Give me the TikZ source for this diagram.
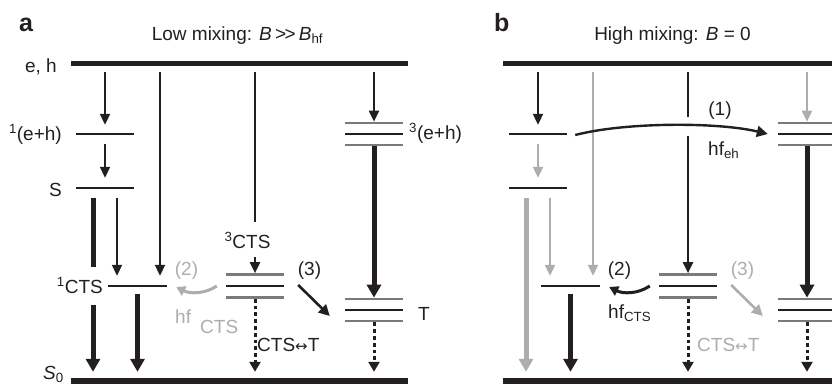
\documentclass[tikz,border=0pt]{standalone}
\usepackage{fontspec}
\setmainfont{Liberation Sans}
\newfontfamily\djv{DejaVu Sans}
\usetikzlibrary{arrows.meta,calc}
\definecolor{ink}{HTML}{231F20}
\definecolor{midgray}{HTML}{7A7A7A}
\definecolor{ltgray}{HTML}{ADADAD}
\newcommand{\lblfont}{\fontsize{19pt}{22pt}\selectfont}
\newcommand{\dblarrow}{{\djv\fontsize{15pt}{15pt}\selectfont ↔}}
\tikzset{
  lev/.style={fill=ink, inner sep=0pt, minimum height=2.6pt, minimum width=58pt},
  glev/.style={lev, fill=midgray, minimum height=2.3pt},
  bar/.style={fill=ink, inner sep=0pt, minimum height=5pt, minimum width=337pt},
  lab/.style={inner sep=0pt, text=ink, font=\lblfont},
  glab/.style={lab, text=ltgray},
  pan/.style={inner sep=0pt, text=ink, font=\fontsize{25pt}{28pt}\selectfont\bfseries},
  thinline/.style={draw=ink, line width=2pt},
  thinarr/.style={draw=ink, line width=2pt, -{Triangle[width=10pt,length=11pt]}},
  gthinarr/.style={thinarr, draw=ltgray, fill=ltgray},
  thickbar/.style={draw=ink, line width=5pt},
  thickarr/.style={draw=ink, line width=5pt, -{Triangle[width=14pt,length=13pt]}},
  gthickarr/.style={thickarr, draw=ltgray},
  dotarr/.style={draw=ink, line width=3pt, dash pattern=on 3.8pt off 3pt, -{Triangle[width=11pt,length=10pt]}},
  medarr/.style={draw=ink, line width=2.6pt, -{Triangle[width=11pt,length=11pt]}},
  gmedarr/.style={medarr, draw=ltgray},
  curvarr/.style={draw=ink, line width=3pt, -{Triangle[width=10pt,length=9pt]}},
  gcurvarr/.style={curvarr, draw=ltgray},
}
\begin{document}
\begin{tikzpicture}[x=1pt, y=-1pt]
\useasboundingbox (0,0) rectangle (832,386);

% ================= Panel a =================
\node[pan, anchor=base west] (pa) at (19,31) {a};
\node[lab, anchor=base] (ta) at (237.5,40) {Low mixing: \textit{B}\,\textgreater\kern-1.5pt\textgreater\,\textit{B}\textsubscript{hf}};

\node[bar] (aTop) at (239.5,63) {};
\node[bar, minimum height=6pt] (aBot) at (239.5,381) {};
\node[lev] (a1eh) at (105,134) {};
\node[lev] (aS) at (105,188) {};
\node[lev, minimum width=59pt] (a1CTS) at (137.5,286) {};
\node[lev] (a3CTS) at (255,286) {};
\node[glev] (a3CTSu) at (255,274.5) {};
\node[glev] (a3CTSd) at (255,297.5) {};
\node[lev] (a3eh) at (374,134) {};
\node[glev] (a3ehu) at (374,123) {};
\node[glev] (a3ehd) at (374,145) {};
\node[lev] (aT) at (374,310) {};
\node[glev] (aTu) at (374,299) {};
\node[glev] (aTd) at (374,321) {};

\node[lab, anchor=base east] (aeh) at (57,72) {e, h};
\node[lab, anchor=base east] (al1eh) at (62,140) {\textsuperscript{1}(e+h)};
\node[lab, anchor=base east] (alS) at (62,196) {S};
\node[lab, anchor=base east] (al1CTS) at (103,293) {\textsuperscript{1}CTS};
\node[lab, anchor=base] (al3CTS) at (247.5,248) {\textsuperscript{3}CTS};
\node[glab, anchor=base] (al2) at (186.5,275) {(2)};
\node[glab, anchor=base west] (alhf) at (175,323) {hf};
\node[glab, anchor=base west] (alhfc) at (200,333) {CTS};
\node[lab, anchor=base] (al3) at (309.5,275) {(3)};
\node[lab, anchor=base west] (alct) at (257,351) {CTS\dblarrow T};
\node[lab, anchor=base west] (al3eh) at (409,139) {\textsuperscript{3}(e+h)};
\node[lab, anchor=base west] (alT) at (418,320) {T};
\node[lab, anchor=base east] (alS0) at (64,379) {\textit{S}\textsubscript{0}};

\draw[thinarr, shorten <=6.5pt, shorten >=7.7pt] (aTop.south -| a1eh) -- (a1eh.north);
\draw[thinarr, shorten <=8pt, shorten >=8.7pt] (a1eh.south) -- (aS.north);
\draw[thinarr, shorten <=6.5pt, shorten >=8.7pt] ($(aTop.south -| a1CTS)+(22.5,0)$) -- ($(a1CTS.north)+(22.5,0)$);
\draw[thinarr, shorten <=8pt, shorten >=8.7pt] ($(aS.south)+(12,0)$) -- ($(a1CTS.north -| aS)+(12,0)$);
\draw[thickbar] ($(aS.south)+(-12,8)$) -- ($(a1CTS.north -| aS)+(-12,-17.7)$);
\draw[thickarr, shorten >=6pt] ($(a1CTS.south -| aS)+(-12,17.7)$) -- ($(aBot.north -| aS)+(-12,0)$);
\draw[thickarr, shorten <=6.7pt, shorten >=6pt] (a1CTS.south) -- (aBot.north -| a1CTS);
\draw[thinline, shorten <=6.5pt] (aTop.south -| a3CTS) -- ($(a3CTSu.north)+(0,-51.4)$);
\draw[thinarr] ($(a3CTSu.north)+(0,-16.4)$) -- (a3CTSu.north);
\draw[dotarr, shorten >=6pt] (a3CTSd.south) -- (aBot.north -| a3CTSd);
\draw[medarr] ($(a3CTS.east)+(14,-1)$) -- ($(aT.west)+(-15,6)$);
\draw[gcurvarr] ($(a3CTS.west)+(-9,0)$) .. controls +(-12,8) and +(14,7) .. ($(a1CTS.east)+(9,1)$);
\draw[thinarr, shorten <=6.5pt] (aTop.south -| a3eh) -- (a3ehu.north);
\draw[thickarr] (a3ehd.south) -- (aTu.north);
\draw[dotarr, shorten >=6pt] (aTd.south) -- (aBot.north -| aTd);

% ================= Panel b =================
\begin{scope}[xshift=433pt]
\node[pan, anchor=base west] (pb) at (61,31) {b};
\node[lab, anchor=base] (tb) at (239.5,40) {High mixing: \textit{B} = 0};

\node[bar] (bTop) at (238.5,63) {};
\node[bar, minimum height=6pt] (bBot) at (238.5,381) {};
\node[lev] (b1eh) at (105,134) {};
\node[lev] (bS) at (105,188) {};
\node[lev, minimum width=59pt] (b1CTS) at (137.5,286) {};
\node[lev] (b3CTS) at (255,286) {};
\node[glev] (b3CTSu) at (255,274.5) {};
\node[glev] (b3CTSd) at (255,297.5) {};
\node[lev] (b3eh) at (374,134) {};
\node[glev] (b3ehu) at (374,123) {};
\node[glev] (b3ehd) at (374,145) {};
\node[lev] (bT) at (374,310) {};
\node[glev] (bTu) at (374,299) {};
\node[glev] (bTd) at (374,321) {};

\node[lab, anchor=base] (bl1) at (287,115) {(1)};
\node[lab, anchor=base west] (blhf) at (275,155) {hf\textsubscript{eh}};
\node[lab, anchor=base] (bl2) at (186.5,275) {(2)};
\node[lab, anchor=base west] (blhfc) at (175,318) {hf\textsubscript{CTS}};
\node[glab, anchor=base] (bl3) at (309.5,275) {(3)};
\node[glab, anchor=base west] (blct) at (264,351) {CTS\dblarrow T};

\draw[thinarr, shorten <=6.5pt, shorten >=7.7pt] (bTop.south -| b1eh) -- (b1eh.north);
\draw[gthinarr, shorten <=8pt, shorten >=8.7pt] (b1eh.south) -- (bS.north);
\draw[gthinarr, shorten <=6.5pt, shorten >=8.7pt] ($(bTop.south -| b1CTS)+(22.5,0)$) -- ($(b1CTS.north)+(22.5,0)$);
\draw[gthinarr, shorten <=8pt, shorten >=8.7pt] ($(bS.south)+(12,0)$) -- ($(b1CTS.north -| bS)+(12,0)$);
\draw[gthickarr, shorten <=8pt, shorten >=6pt] ($(bS.south)+(-12,0)$) -- ($(bBot.north -| bS)+(-12,0)$);
\draw[thickarr, shorten <=6.7pt, shorten >=6pt] (b1CTS.south) -- (bBot.north -| b1CTS);
\draw[thinline, shorten <=6.5pt] (bTop.south -| b3CTS) -- ($(b3eh.north -| b3CTS)+(0,-15.7)$);
\draw[thinarr] (b3eh.south -| b3CTS) -- (b3CTSu.north);
\draw[dotarr, shorten >=6pt] (b3CTSd.south) -- (bBot.north -| b3CTSd);
\draw[gmedarr] ($(b3CTS.east)+(14,-1)$) -- ($(bT.west)+(-15,6)$);
\draw[curvarr] ($(b3CTS.west)+(-9,0)$) .. controls +(-12,8) and +(14,7) .. ($(b1CTS.east)+(9,1)$);
\draw[gthinarr, shorten <=6.5pt] (bTop.south -| b3eh) -- (b3ehu.north);
\draw[thickarr] (b3ehd.south) -- (bTu.north);
\draw[dotarr, shorten >=6pt] (bTd.south) -- (bBot.north -| bTd);
\draw[medarr, line width=2.4pt] ($(b1eh.east)+(8,1)$) .. controls +(50,-13) and +(-50,-12) .. ($(b3eh.west)+(-10,0)$);
\end{scope}
\end{tikzpicture}
\end{document}
